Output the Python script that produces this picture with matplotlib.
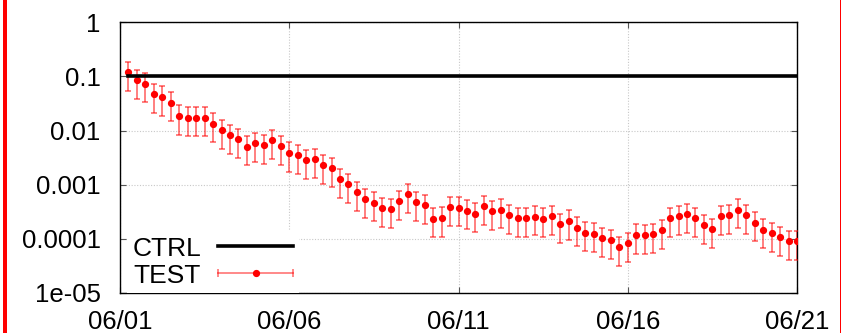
import numpy as np
import pandas as pd
import matplotlib
matplotlib.use("Agg")
import matplotlib.pyplot as plt
import matplotlib.dates as mdates
import matplotlib.ticker as ticker
from matplotlib.lines import Line2D
from matplotlib.patches import Rectangle
from matplotlib.legend_handler import HandlerLine2D, HandlerTuple

# ── Data ────────────────────────────────────────────────────────────────────
START = "2021-06-01 06:00"      # first sample, one every 6 h
STEP = "6h"

test_values = [
    0.121, 0.0849, 0.0734, 0.0468, 0.0422, 0.0327, 0.0188, 0.0173, 0.0173, 0.0174,
    0.0135, 0.0103, 0.00829, 0.00690, 0.00508, 0.00590, 0.00542, 0.00656, 0.00513, 0.00389,
    0.00349, 0.00286, 0.00296, 0.00228, 0.00201, 0.00126, 0.00101, 0.000724, 0.000538, 0.000469,
    0.000372, 0.000356, 0.000500, 0.000679, 0.000480, 0.000422, 0.000236, 0.000245, 0.000380, 0.000377,
    0.000331, 0.000294, 0.000405, 0.000327, 0.000348, 0.000276, 0.000241, 0.000244, 0.000257, 0.000236,
    0.000259, 0.000188, 0.000216, 0.000161, 0.000130, 0.000125, 0.000104, 0.0000940, 0.0000698, 0.0000839,
    0.000119, 0.000116, 0.000121, 0.000144, 0.000243, 0.000262, 0.000288, 0.000241, 0.000178, 0.000149,
    0.000264, 0.000278, 0.000346, 0.000272, 0.000199, 0.000148, 0.000128, 0.000109, 0.0000920, 0.0000920,
]
test_rel_err = 0.55            # error bars are ~55 % of each value
ctrl_level = 0.1

x_tick_dates = ["2021-06-01", "2021-06-06", "2021-06-11", "2021-06-16", "2021-06-21"]
x_tick_labels = ["06/01", "06/06", "06/11", "06/16", "06/21"]
y_ticks = [1e-5, 1e-4, 1e-3, 1e-2, 1e-1, 1]
y_tick_labels = ["1e-05", "0.0001", "0.001", "0.01", "0.1", "1"]

times = pd.date_range(START, periods=len(test_values), freq=STEP)
test = np.array(test_values)
ctrl = np.full(len(times), ctrl_level)

# ── Style ───────────────────────────────────────────────────────────────────
plt.rcParams.update({
    "font.family": ["Liberation Sans", "DejaVu Sans"],
})

W, H = 841, 333
fig = plt.figure(figsize=(W / 100, H / 100), dpi=100)
ax = fig.add_axes([120 / W, 1 - 293 / H, (797 - 120) / W, (293 - 22.3) / H])

ax.errorbar(times, test, yerr=test * test_rel_err, fmt="o", color="red",
            ms=4.2, mec="red", ecolor=(1, 0, 0, 0.5), elinewidth=1.4,
            capsize=2.4, capthick=1.4, zorder=3)
ctrl_line, = ax.plot(times, ctrl, color="black", lw=2.6, zorder=4)

ax.set_yscale("log")
ax.set_ylim(1e-5, 1)
ax.set_xlim(pd.Timestamp(x_tick_dates[0]), pd.Timestamp(x_tick_dates[-1]))

ax.yaxis.set_major_locator(ticker.FixedLocator(y_ticks))
ax.yaxis.set_major_formatter(ticker.FixedFormatter(y_tick_labels))
ax.yaxis.set_minor_locator(ticker.LogLocator(base=10, subs=(2, 5, 8)))
ax.yaxis.set_minor_formatter(ticker.NullFormatter())

xt = [mdates.date2num(pd.Timestamp(d)) for d in x_tick_dates]
ax.xaxis.set_major_locator(ticker.FixedLocator(xt))
ax.xaxis.set_major_formatter(ticker.FixedFormatter(x_tick_labels))
ax.xaxis.set_minor_locator(ticker.NullLocator())

ax.tick_params(which="both", direction="in", top=True, right=True,
               color="#555555", width=0.8)
ax.tick_params(which="major", length=4.5, labelsize=18.5)
ax.tick_params(axis="y", which="major", pad=14)
ax.tick_params(axis="x", which="major", pad=12)
ax.tick_params(which="minor", length=2.5)
for s in ax.spines.values():
    s.set_linewidth(1.0)
    s.set_color("black")

ax.grid(True, which="major", color="#c8c8c8", linestyle=(0, (1, 1.5)), lw=0.8)
ax.set_axisbelow(True)

# ── Legend (text first, gnuplot style) ──────────────────────────────────────
cap_proxy = Line2D([], [], color=(1, 0, 0, 0.5), lw=1.3, marker="|",
                   markersize=6, markeredgewidth=1.3)
dot_proxy = Line2D([], [], color="red", marker="o", ls="none", ms=4.2)
leg = ax.legend([ctrl_line, (cap_proxy, dot_proxy)], ["CTRL", "TEST"],
                loc="lower left", bbox_to_anchor=(7 / 677, 0), borderaxespad=0,
                markerfirst=False, frameon=True, fancybox=False,
                edgecolor="none", facecolor="white", framealpha=1,
                fontsize=19, handlelength=2.85, handletextpad=0.65,
                borderpad=0.2, labelspacing=0.12,
                handler_map={cap_proxy: HandlerLine2D(numpoints=2, marker_pad=0),
                             dot_proxy: HandlerLine2D(numpoints=1),
                             tuple: HandlerTuple(ndivide=1)})
leg.get_frame().set_linewidth(0)

# ── Red page edges ──────────────────────────────────────────────────────────
fig.add_artist(Rectangle((2.5 / W, 0), 4.5 / W, 1, transform=fig.transFigure,
                         color="red", lw=0))
fig.add_artist(Rectangle((839.5 / W, 0), 1.2 / W, 1, transform=fig.transFigure,
                         color="red", lw=0))

fig.savefig("out.png", dpi=100)
